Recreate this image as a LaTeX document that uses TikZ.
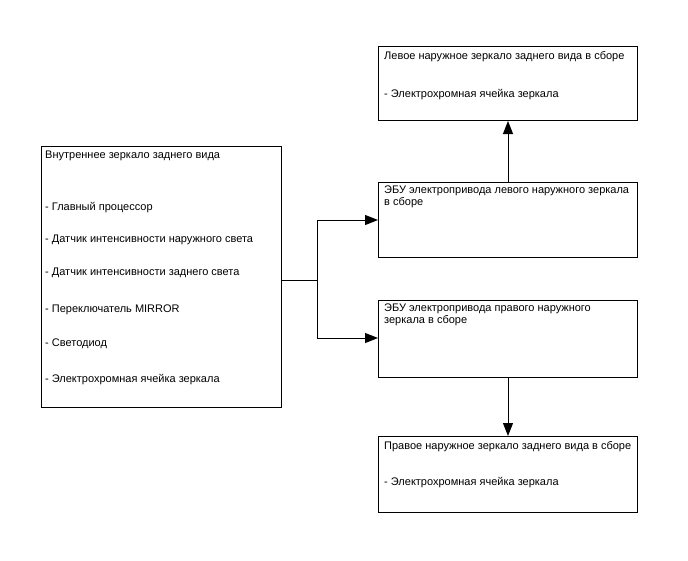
\documentclass[tikz,border=0pt]{standalone}
\usepackage{fontspec}
\setmainfont{Liberation Sans}
\usetikzlibrary{arrows.meta,positioning,calc}
\tikzset{
  block/.style={rectangle,draw=black,line width=1pt,fill=white,anchor=north west,inner sep=0pt},
  txt/.style={anchor=west,inner sep=0pt,font=\fontsize{11}{11.8}\selectfont,align=left},
  arrow/.style={-{Triangle[length=13pt,width=10pt]},line width=1pt},
  wire/.style={line width=1pt}
}
\begin{document}
\begin{tikzpicture}[x=1pt,y=-1pt]
  \useasboundingbox (0,0) rectangle (688,560);
  % boxes
  \node[block,minimum width=240pt,minimum height=261pt] (inner) at (41,146) {};
  \node[block,minimum width=259pt,minimum height=74pt] (lmirror) at (378,46) {};
  \node[block,minimum width=259pt,minimum height=75pt] (lecu) at (378,182) {};
  \node[block,minimum width=259pt,minimum height=77pt] (recu) at (378,300) {};
  \node[block,minimum width=259pt,minimum height=76pt] (rmirror) at (378,436) {};

  % texts
  \node[txt] (t0) at (45,156) {Внутреннее зеркало заднего вида};
  \node[txt] (t1) at (45,208) {- Главный процессор};
  \node[txt] (t2) at (45,239.5) {- Датчик интенсивности наружного света};
  \node[txt] (t3) at (45,272.5) {- Датчик интенсивности заднего света};
  \node[txt] (t4) at (45,309.5) {- Переключатель MIRROR};
  \node[txt] (t5) at (45,343.5) {- Светодиод};
  \node[txt] (t6) at (45,380) {- Электрохромная ячейка зеркала};

  \node[txt] (l0) at (384,56.5) {Левое наружное зеркало заднего вида в сборе};
  \node[txt] (l1) at (384,94.5) {- Электрохромная ячейка зеркала};
  \node[txt,anchor=north west] (e0) at (384,186) {ЭБУ электропривода левого наружного зеркала\\в сборе};
  \node[txt,anchor=north west] (e1) at (384,304) {ЭБУ электропривода правого наружного\\зеркала в сборе};
  \node[txt] (r0) at (384,447) {Правое наружное зеркало заднего вида в сборе};
  \node[txt] (r1) at (384,483) {- Электрохромная ячейка зеркала};

  % connectors
  \coordinate (split) at (317,280);
  \draw[wire] (inner.east |- split) -- (split);
  \draw[arrow] (split) |- (lecu.west |- 0,220);
  \draw[arrow] (split) |- (recu.west |- 0,338);
  \draw[arrow] (lecu.north -| 508,0) -- (lmirror.south -| 508,0);
  \draw[arrow] (recu.south -| 508,0) -- (rmirror.north -| 508,0);
\end{tikzpicture}
\end{document}
